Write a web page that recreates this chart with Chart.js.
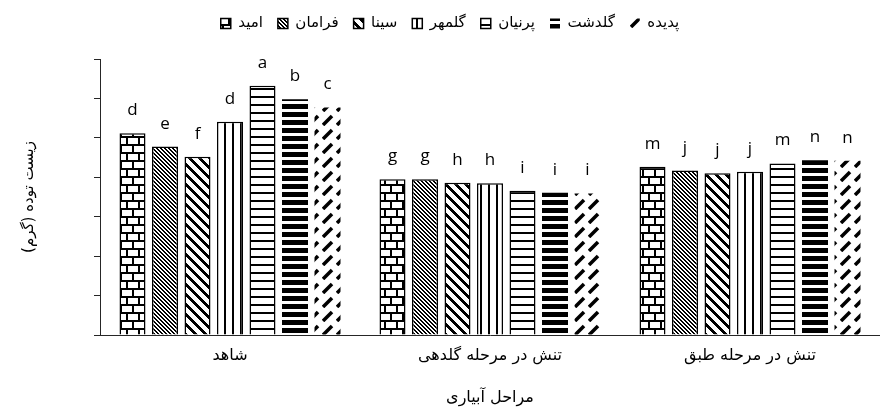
<!DOCTYPE html>
<html>
<head>
<meta charset="utf-8">
<script src="https://cdn.jsdelivr.net/npm/chart.js@4/dist/chart.umd.min.js"></script>
<style>
html,body{margin:0;padding:0;background:#fff;}
#wrap{width:880px;height:411px;}
</style>
</head>
<body>
<div id="wrap"><canvas id="c" width="880" height="411"></canvas></div>
<script>
// ---- data ----
const categories = ['شاهد', 'تنش در مرحله گلدهی', 'تنش در مرحله طبق'];
const seriesNames = ['امید', 'فرامان', 'سینا', 'گلمهر', 'پرنیان', 'گلدشت', 'پدیده'];
const omid    = [51.2, 39.5, 42.7];
const faraman = [47.8, 39.5, 41.7];
const sina    = [45.2, 38.6, 41.0];
const golmehr = [54.1, 38.5, 41.4];
const parnian = [63.2, 36.6, 43.5];
const goldasht= [59.8, 36.1, 44.3];
const padideh = [57.7, 35.9, 44.2];
const lettersOmid    = ['d', 'g', 'm'];
const lettersFaraman = ['e', 'g', 'j'];
const lettersSina    = ['f', 'h', 'j'];
const lettersGolmehr = ['d', 'h', 'j'];
const lettersParnian = ['a', 'i', 'm'];
const lettersGoldasht= ['b', 'i', 'n'];
const lettersPadideh = ['c', 'i', 'n'];
const yTitle = 'زیست توده (گرم)';
const xTitle = 'مراحل آبیاری';

// ---- patterns ----
const mainCtx = document.getElementById('c').getContext('2d');
function makePattern(w, h, draw) {
  const cv = document.createElement('canvas');
  cv.width = w; cv.height = h;
  const x = cv.getContext('2d');
  x.fillStyle = '#fff'; x.fillRect(0, 0, w, h);
  x.fillStyle = '#000'; x.strokeStyle = '#000';
  draw(x, w, h);
  return mainCtx.createPattern(cv, 'repeat');
}
const pBrick = makePattern(12, 16, (x) => {
  x.fillRect(0, 0, 12, 2); x.fillRect(0, 8, 12, 2);
  x.fillRect(0, 0, 2, 8); x.fillRect(6, 8, 2, 8);
});
const pFineDiag = makePattern(4, 4, (x) => {
  for (let y = 0; y < 4; y++) for (let k = 0; k < 2; k++) x.fillRect((y + k) % 4, y, 1, 1);
});
const pWideDiag = makePattern(10, 10, (x) => {
  for (let y = 0; y < 10; y++) for (let k = 0; k < 4; k++) x.fillRect((y + k) % 10, y, 1, 1);
});
const pVert = makePattern(8, 4, (x) => { x.fillRect(0, 0, 2, 4); });
const pHoriz = makePattern(4, 8, (x) => { x.fillRect(0, 0, 4, 2); });
const pThick = makePattern(4, 8, (x) => { x.fillRect(0, 0, 4, 5); });
const pDash = makePattern(14, 14, (x) => {
  x.lineWidth = 3.5; x.lineCap = 'butt';
  x.beginPath(); x.moveTo(1, 13); x.lineTo(10, 4); x.stroke();
});

function ds(label, data, letters, bg, bw) {
  return { label, data, letters, backgroundColor: bg, borderColor: '#000', borderWidth: bw };
}
const datasets = [
  ds(seriesNames[0], omid, lettersOmid, pBrick, 1.5),
  ds(seriesNames[1], faraman, lettersFaraman, pFineDiag, 1.5),
  ds(seriesNames[2], sina, lettersSina, pWideDiag, 1.5),
  ds(seriesNames[3], golmehr, lettersGolmehr, pVert, 1.5),
  ds(seriesNames[4], parnian, lettersParnian, pHoriz, 1.5),
  ds(seriesNames[5], goldasht, lettersGoldasht, pThick, 0),
  ds(seriesNames[6], padideh, lettersPadideh, pDash, 0)
];

const letterPlugin = {
  id: 'letters',
  afterDatasetsDraw(chart) {
    const ctx = chart.ctx;
    ctx.save();
    ctx.font = '17px "Open Sans"';
    ctx.fillStyle = '#000';
    ctx.textAlign = 'center';
    ctx.textBaseline = 'alphabetic';
    chart.data.datasets.forEach((d, i) => {
      chart.getDatasetMeta(i).data.forEach((el, j) => {
        ctx.fillText(d.letters[j], el.x, el.y - 18);
      });
    });
    ctx.restore();
  }
};

const legendSpace = {
  id: 'legendSpace',
  beforeInit(chart) {
    const orig = chart.legend.fit;
    chart.legend.fit = function () { orig.call(this); this.height += 18; };
  }
};

const axisColor = '#262626';
new Chart(document.getElementById('c'), {
  type: 'bar',
  data: { labels: categories, datasets },
  options: {
    responsive: false,
    animation: false,
    layout: { padding: { left: 20, right: 0, top: 1, bottom: 4 } },
    datasets: { bar: { categoryPercentage: 0.875, barPercentage: 0.8 } },
    plugins: {
      legend: {
        position: 'top',
        labels: {
          boxWidth: 10, boxHeight: 10, padding: 15, color: '#000',
          font: { family: '"DejaVu Sans"', size: 15 }
        }
      },
      tooltip: { enabled: false }
    },
    scales: {
      x: {
        grid: { display: false, drawTicks: false },
        border: { color: axisColor, width: 1 },
        ticks: { color: '#000', padding: 11, font: { family: '"DejaVu Sans"', size: 16 }, maxRotation: 0 },
        title: { display: true, text: xTitle, color: '#000', font: { family: '"DejaVu Sans"', size: 16 }, padding: { top: 0, bottom: 0 } },
        afterFit(s) { s.height = 72; }
      },
      y: {
        min: 0, max: 70,
        ticks: { display: false, stepSize: 10 },
        grid: { drawOnChartArea: false, drawTicks: true, tickLength: 6, color: axisColor },
        border: { color: axisColor, width: 1 },
        title: { display: true, text: yTitle, color: '#000', font: { family: '"DejaVu Sans"', size: 15 }, padding: { top: 0, bottom: 0 } },
        afterFit(s) { s.width = 80; }
      }
    }
  },
  plugins: [letterPlugin, legendSpace]
});
</script>
</body>
</html>
